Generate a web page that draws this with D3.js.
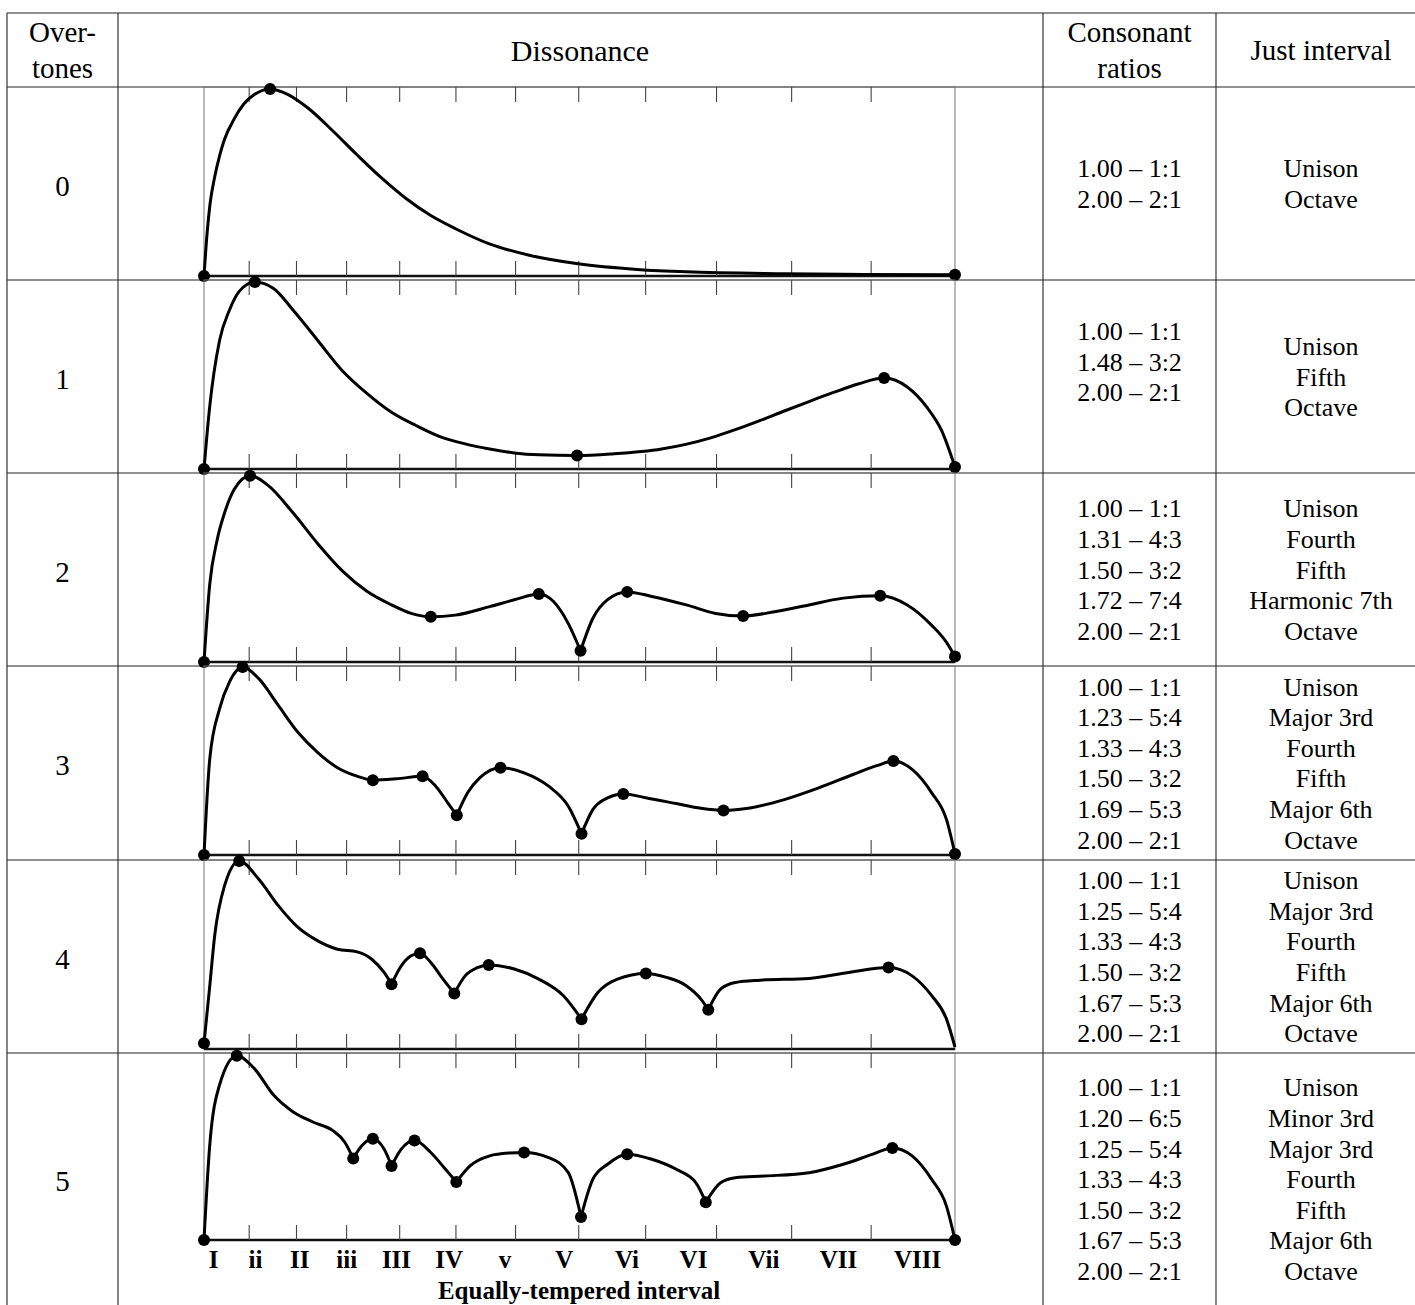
<!DOCTYPE html>
<html>
<head>
<meta charset="utf-8">
<script src="https://cdnjs.cloudflare.com/ajax/libs/d3/7.8.5/d3.min.js"></script>
<style>
  body { margin: 0; background: #fff; }
  text { font-family: "Liberation Serif", "Times New Roman", serif; fill: #000; }
</style>
</head>
<body>
<div id="chart"></div>
<script>
/* dissonance curves table */

// Overtone counts (one row each)
var overtones = ["0", "1", "2", "3", "4", "5"];

// Dissonance curves: [frequency ratio, normalised dissonance]
var curve0 = [[1.000,0.00],[1.004,0.22],[1.008,0.38],[1.014,0.52],[1.021,0.64],[1.027,0.72],[1.040,0.83],
  [1.053,0.91],[1.067,0.96],[1.088,0.99],[1.112,0.96],[1.138,0.89],[1.171,0.77],[1.204,0.64],[1.236,0.52],
  [1.269,0.41],[1.302,0.32],[1.335,0.25],[1.380,0.17],[1.433,0.11],[1.498,0.065],[1.577,0.035],
  [1.642,0.022],[1.773,0.012],[1.880,0.008],[2.000,0.006]];
var curve1 = [[1.000,0.00],[1.0076,0.33],[1.0207,0.68],[1.0338,0.84],[1.0469,0.94],[1.0678,0.99],
  [1.0927,0.955],[1.1188,0.84],[1.1515,0.68],[1.1842,0.52],[1.2169,0.40],[1.2497,0.30],[1.2823,0.23],
  [1.3150,0.17],[1.3477,0.133],[1.3804,0.106],[1.4132,0.085],[1.4458,0.075],[1.4968,0.071],[1.5439,0.080],
  [1.6093,0.106],[1.6747,0.165],[1.7074,0.208],[1.7401,0.256],[1.7728,0.307],[1.8056,0.357],[1.8382,0.405],
  [1.8710,0.450],[1.9056,0.481],[1.9364,0.434],[1.9625,0.327],[1.9821,0.204],[2.000,0.01]];
var curve2 = [[1.000,0.00],[1.0076,0.41],[1.0174,0.644],[1.0273,0.788],[1.0403,0.914],[1.0613,0.986],
  [1.0861,0.932],[1.1188,0.788],[1.1515,0.626],[1.1842,0.482],[1.2169,0.374],[1.2497,0.302],[1.2758,0.257],
  [1.3020,0.239],[1.3346,0.248],[1.3804,0.293],[1.4132,0.329],[1.4458,0.360],[1.4654,0.320],[1.4851,0.203],
  [1.5014,0.059],[1.5177,0.230],[1.5374,0.330],[1.5635,0.371],[1.5963,0.347],[1.6421,0.302],[1.6812,0.257],
  [1.7179,0.243],[1.7598,0.266],[1.8056,0.302],[1.8513,0.338],[1.9004,0.351],[1.9364,0.302],[1.9690,0.194],
  [1.9887,0.104],[2.000,0.029]];
var curve3 = [[1.000,0.00],[1.0076,0.506],[1.0207,0.773],[1.0338,0.915],[1.0514,0.995],[1.0730,0.933],
  [1.0992,0.790],[1.1253,0.648],[1.1515,0.542],[1.1777,0.462],[1.2039,0.417],[1.2248,0.396],[1.2562,0.403],
  [1.2910,0.417],[1.3085,0.364],[1.3248,0.275],[1.3366,0.210],[1.3510,0.329],[1.3674,0.409],[1.3948,0.462],
  [1.4262,0.435],[1.4589,0.364],[1.4851,0.258],[1.5027,0.112],[1.5177,0.240],[1.5374,0.302],[1.5583,0.323],
  [1.5897,0.302],[1.6289,0.272],[1.6617,0.247],[1.6917,0.236],[1.7270,0.249],[1.7728,0.293],[1.8186,0.355],
  [1.8644,0.426],[1.8971,0.474],[1.9180,0.497],[1.9429,0.453],[1.9690,0.329],[1.9887,0.187],[2.000,0.005]];
var curve4 = [[1.000,0.03],[1.0076,0.33],[1.0142,0.599],[1.0273,0.863],[1.0469,0.995],[1.0730,0.898],
  [1.0992,0.757],[1.1253,0.643],[1.1515,0.572],[1.1777,0.528],[1.2039,0.514],[1.2234,0.475],[1.2398,0.405],
  [1.2497,0.343],[1.2627,0.440],[1.2758,0.493],[1.2876,0.507],[1.3020,0.458],[1.3183,0.370],[1.3333,0.294],
  [1.3477,0.387],[1.3640,0.431],[1.3791,0.445],[1.4132,0.423],[1.4458,0.370],[1.4786,0.282],[1.5027,0.158],
  [1.5244,0.299],[1.5505,0.370],[1.5884,0.400],[1.6158,0.379],[1.6421,0.335],[1.6617,0.264],[1.6715,0.208],
  [1.6878,0.317],[1.7075,0.352],[1.7401,0.364],[1.8056,0.373],[1.8578,0.405],[1.9115,0.431],[1.9429,0.387],
  [1.9690,0.282],[1.9887,0.158],[2.000,0.01]];
var curve5 = [[1.000,0.00],[1.0076,0.505],[1.0207,0.829],[1.0436,0.985],[1.0665,0.919],[1.0927,0.775],
  [1.1188,0.685],[1.1450,0.631],[1.1711,0.586],[1.1875,0.523],[1.1987,0.436],[1.2104,0.505],[1.2248,0.541],
  [1.2398,0.486],[1.2497,0.396],[1.2627,0.486],[1.2803,0.532],[1.3020,0.468],[1.3216,0.378],[1.3360,0.310],
  [1.3542,0.396],[1.3804,0.450],[1.4065,0.465],[1.4262,0.468],[1.4589,0.441],[1.4851,0.360],[1.5020,0.123],
  [1.5177,0.324],[1.5374,0.405],[1.5635,0.459],[1.5963,0.432],[1.6289,0.378],[1.6551,0.306],[1.6682,0.202],
  [1.6878,0.306],[1.7075,0.333],[1.7466,0.342],[1.8056,0.360],[1.8513,0.405],[1.8906,0.459],[1.9166,0.492],
  [1.9429,0.450],[1.9690,0.324],[1.9887,0.180],[2.000,0.00]];
var curves = [curve0, curve1, curve2, curve3, curve4, curve5];

// Marked points (ratios) and the sharp minima where the curve has a cusp
var dots = [
  [1.000, 1.088, 2.000],
  [1.000, 1.0678, 1.4968, 1.9056, 2.000],
  [1.000, 1.0613, 1.3020, 1.4458, 1.5014, 1.5635, 1.7179, 1.9004, 2.000],
  [1.000, 1.0514, 1.2248, 1.2910, 1.3366, 1.3948, 1.5027, 1.5583, 1.6917, 1.9180, 2.000],
  [1.000, 1.0469, 1.2497, 1.2876, 1.3333, 1.3791, 1.5027, 1.5884, 1.6715, 1.9115],
  [1.000, 1.0436, 1.1987, 1.2248, 1.2497, 1.2803, 1.3360, 1.4262, 1.5020, 1.5635, 1.6682, 1.9166, 2.000]
];
var cusps = [
  [],
  [],
  [1.5014],
  [1.3366, 1.5027],
  [1.2497, 1.3333, 1.5027, 1.6715],
  [1.1987, 1.2497, 1.3360, 1.5020, 1.6682]
];

// Equally-tempered interval ticks
var tickRatios = [1, 1.0595, 1.1225, 1.1892, 1.2599, 1.3348, 1.4142, 1.4983, 1.5874, 1.6818, 1.7818, 1.8877, 2];
var tickLabels = ["I", "ii", "II", "iii", "III", "IV", "v", "V", "Vi", "VI", "Vii", "VII", "VIII"];

// Table text columns
var ratios = [
  ["1.00 – 1:1", "2.00 – 2:1"],
  ["1.00 – 1:1", "1.48 – 3:2", "2.00 – 2:1"],
  ["1.00 – 1:1", "1.31 – 4:3", "1.50 – 3:2", "1.72 – 7:4", "2.00 – 2:1"],
  ["1.00 – 1:1", "1.23 – 5:4", "1.33 – 4:3", "1.50 – 3:2", "1.69 – 5:3", "2.00 – 2:1"],
  ["1.00 – 1:1", "1.25 – 5:4", "1.33 – 4:3", "1.50 – 3:2", "1.67 – 5:3", "2.00 – 2:1"],
  ["1.00 – 1:1", "1.20 – 6:5", "1.25 – 5:4", "1.33 – 4:3", "1.50 – 3:2", "1.67 – 5:3", "2.00 – 2:1"]
];
var intervals = [
  ["Unison", "Octave"],
  ["Unison", "Fifth", "Octave"],
  ["Unison", "Fourth", "Fifth", "Harmonic 7th", "Octave"],
  ["Unison", "Major 3rd", "Fourth", "Fifth", "Major 6th", "Octave"],
  ["Unison", "Major 3rd", "Fourth", "Fifth", "Major 6th", "Octave"],
  ["Unison", "Minor 3rd", "Major 3rd", "Fourth", "Fifth", "Major 6th", "Octave"]
];

// Layout
var W = 1415, H = 1305;
var tableTop = 13;
var colX = [7, 118, 1043, 1216];
var rowTops = [87, 280, 473, 666, 860, 1053];
var panelH = 189;
var lineH = 30.6;
var ratioShift = [0, -15, 0, 0, 0, 0];

var svg = d3.select("#chart").append("svg")
  .attr("width", W)
  .attr("height", H);

var x = d3.scaleLinear().domain([1, 2]).range([204, 955]);
var xLabel = d3.scaleLinear().domain([1, 2]).range([213, 917]);

// Table grid
var grid = svg.append("g").attr("stroke", "#222").attr("stroke-width", 1.1);
grid.append("line").attr("x1", colX[0]).attr("x2", W).attr("y1", tableTop).attr("y2", tableTop);
grid.selectAll("line.col")
  .data(colX)
  .enter()
  .append("line")
  .attr("class", "col")
  .attr("x1", function(d) { return d; })
  .attr("x2", function(d) { return d; })
  .attr("y1", tableTop)
  .attr("y2", H);
grid.selectAll("line.row")
  .data(rowTops)
  .enter()
  .append("line")
  .attr("class", "row")
  .attr("x1", colX[0])
  .attr("x2", W)
  .attr("y1", function(d) { return d; })
  .attr("y2", function(d) { return d; });

// Centred block of text lines
function centred(g, cx, cy, lines, size, lh) {
  var start = cy - (lines.length - 1) * lh / 2;
  lines.forEach(function(t, i) {
    g.append("text")
      .attr("x", cx)
      .attr("y", start + i * lh)
      .attr("dy", "0.35em")
      .attr("text-anchor", "middle")
      .style("font-size", size + "px")
      .text(t);
  });
}
var head = svg.append("g");
centred(head, (colX[0] + colX[1]) / 2, 50, ["Over-", "tones"], 29, 36);
centred(head, 580, 50, ["Dissonance"], 30, 36);
centred(head, (colX[2] + colX[3]) / 2, 50, ["Consonant", "ratios"], 29, 36);
centred(head, 1321, 50, ["Just interval"], 29, 36);

var lineGen = d3.line()
  .x(function(d) { return x(d[0]); })
  .curve(d3.curveMonotoneX);

function segments(points, cuts) {
  var segs = [], cur = [];
  points.forEach(function(p) {
    cur.push(p);
    if (cuts.indexOf(p[0]) >= 0 && cur.length > 1) {
      segs.push(cur);
      cur = [p];
    }
  });
  if (cur.length > 1) segs.push(cur);
  return segs;
}

overtones.forEach(function(label, i) {
  var top = rowTops[i];
  var bottom = top + panelH;
  var rowBottom = i < rowTops.length - 1 ? rowTops[i + 1] : H;
  if (i == overtones.length - 1) bottom = top + 187;
  var cy = (top + rowBottom) / 2;

  var y = d3.scaleLinear().domain([0, 1]).range([bottom, top]);
  var g = svg.append("g").attr("class", "panel");

  // Panel frame
  g.append("rect")
    .attr("x", x(1))
    .attr("y", top)
    .attr("width", x(2) - x(1))
    .attr("height", bottom - top)
    .attr("fill", "none")
    .attr("stroke", "#777")
    .attr("stroke-width", 1);
  g.append("line")
    .attr("x1", x(1)).attr("x2", x(2))
    .attr("y1", bottom).attr("y2", bottom)
    .attr("stroke", "#111")
    .attr("stroke-width", 2.4);

  // Inward ticks, top and bottom
  var inner = tickRatios.slice(1, -1);
  var topAxis = g.append("g")
    .attr("transform", "translate(0," + top + ")")
    .call(d3.axisBottom(x).tickValues(inner).tickSize(15).tickFormat(""));
  var botAxis = g.append("g")
    .attr("transform", "translate(0," + bottom + ")")
    .call(d3.axisTop(x).tickValues(inner).tickSize(15).tickFormat(""));
  [topAxis, botAxis].forEach(function(a) {
    a.select(".domain").remove();
    a.selectAll(".tick line").attr("stroke", "#444").attr("stroke-width", 1.1);
  });

  // Curve
  lineGen.y(function(d) { return y(d[1]); });
  g.selectAll("path.curve")
    .data(segments(curves[i], cusps[i]))
    .enter()
    .append("path")
    .attr("class", "curve")
    .attr("d", lineGen)
    .attr("fill", "none")
    .attr("stroke", "#000")
    .attr("stroke-width", 3);

  // Dots
  g.selectAll("circle.dot")
    .data(dots[i].map(function(r) {
      return curves[i].reduce(function(a, b) {
        return Math.abs(b[0] - r) < Math.abs(a[0] - r) ? b : a;
      });
    }))
    .enter()
    .append("circle")
    .attr("class", "dot")
    .attr("cx", function(d) { return x(d[0]); })
    .attr("cy", function(d) { return y(d[1]); })
    .attr("r", 6)
    .attr("fill", "#000");

  // Row texts
  centred(svg, (colX[0] + colX[1]) / 2, cy + 2, [label], 29, 30);
  centred(svg, (colX[2] + colX[3]) / 2, cy + ratioShift[i], ratios[i], 26, lineH);
  centred(svg, 1321, cy, intervals[i], 26, lineH);

  // Interval labels under the last panel
  if (i == overtones.length - 1) {
    var lab = g.append("g")
      .attr("transform", "translate(0," + (bottom + 7) + ")")
      .call(d3.axisBottom(xLabel).tickValues(tickRatios).tickSize(0)
        .tickFormat(function(d, k) { return tickLabels[k]; }));
    lab.select(".domain").remove();
    lab.selectAll("text")
      .style("font-family", "'Liberation Serif', 'Times New Roman', serif")
      .style("font-size", "25px")
      .style("font-weight", "bold")
      .attr("fill", "#000");
    g.append("text")
      .attr("x", 579)
      .attr("y", 1299)
      .attr("text-anchor", "middle")
      .style("font-size", "25px")
      .style("font-weight", "bold")
      .text("Equally-tempered interval");
  }
});
</script>
</body>
</html>
